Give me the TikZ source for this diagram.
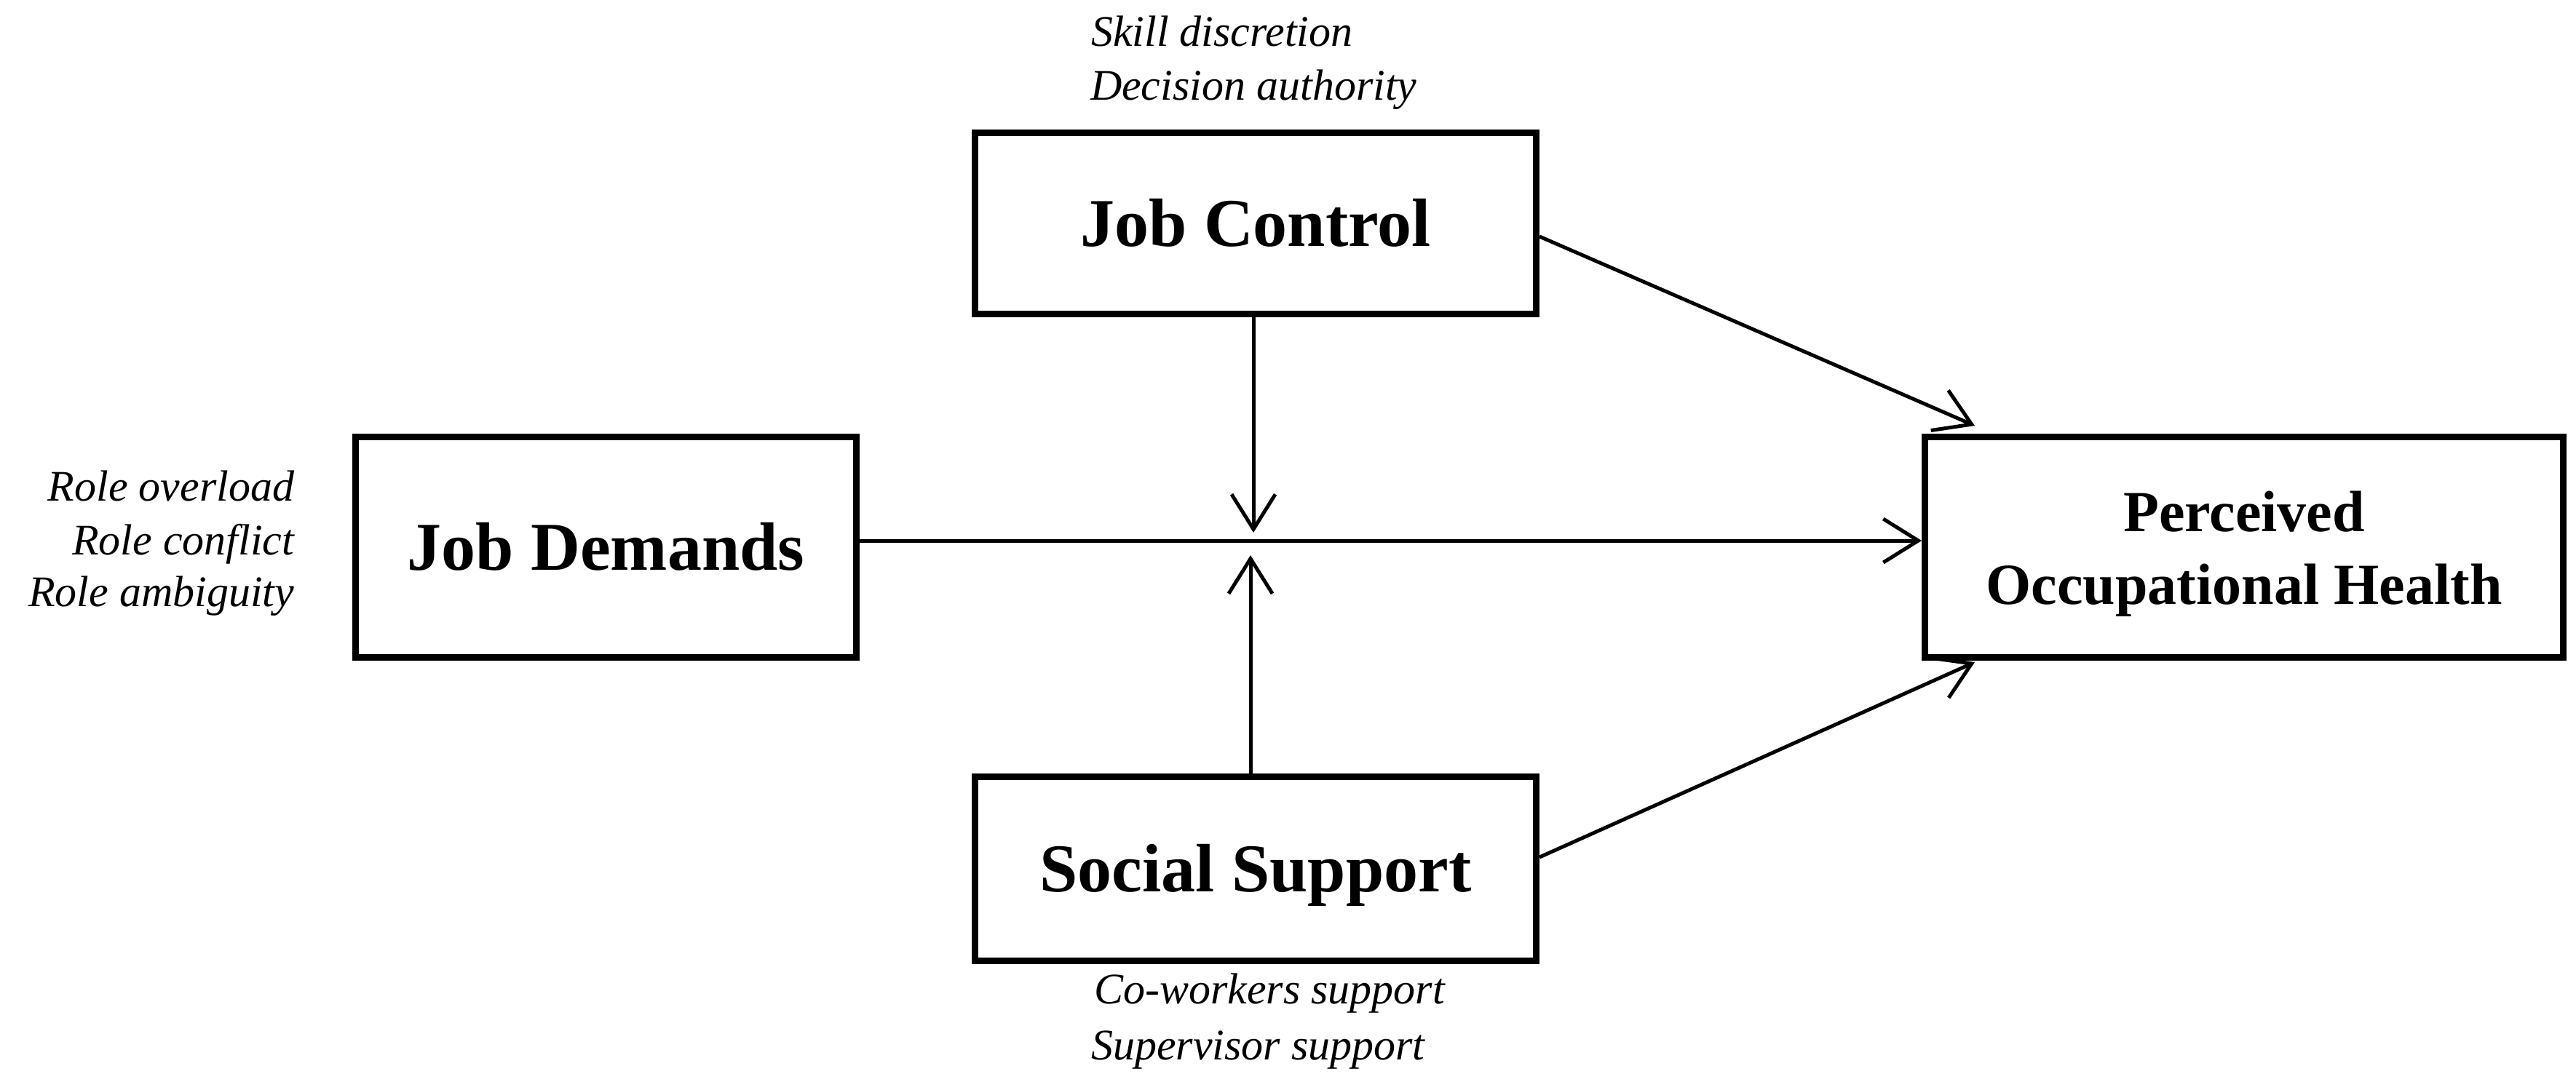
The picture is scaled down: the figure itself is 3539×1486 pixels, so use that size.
\documentclass[tikz,border=0pt]{standalone}
\usepackage{fontspec}
\setmainfont{Liberation Serif}
\usetikzlibrary{arrows.meta,calc}
\begin{document}
\begin{tikzpicture}[x=0.2pt,y=-0.2pt,
  box/.style={draw,line width=1.8pt,rectangle,inner sep=0pt,
    font=\bfseries\fontsize{18.8}{20}\selectfont,text height=12.4pt,text depth=0pt},
  boxline/.style={inner sep=0pt,font=\bfseries\fontsize{16}{20}\selectfont,anchor=base},
  item/.style={inner sep=0pt,font=\itshape\fontsize{12}{14.8}\selectfont},
  conn/.style={line width=1pt,-{Straight Barb[length=9.6pt,width=12pt,line width=1pt]}}]
\useasboundingbox (0,0) rectangle (3539,1486);
% boxes
\node[box,minimum width=154.2pt,minimum height=49.8pt] (jc) at (1725,307) {Job Control};
\node[box,minimum width=137.6pt,minimum height=60.6pt] (jd) at (832.5,752) {Job Demands};
\node[box,minimum width=154.2pt,minimum height=50.6pt] (ss) at (1725,1194) {Social Support};
\node[box,minimum width=175.4pt,minimum height=60.6pt] (pe) at (3083,752) {};
\node[boxline] (pe1) at (3083,730) {Perceived};
\node[boxline] (pe2) at (3083,830) {Occupational Health};
% item lists
\node[item,anchor=base west] (jci1) at (1498,63) {Skill discretion};
\node[item,anchor=base west] (jci2) at (1497,137) {Decision authority};
\node[item,anchor=base east] (jdi1) at (405,688) {Role overload};
\node[item,anchor=base east] (jdi2) at (405,762) {Role conflict};
\node[item,anchor=base east] (jdi3) at (405,833) {Role ambiguity};
\node[item,anchor=base west] (ssi1) at (1502,1379) {Co-workers support};
\node[item,anchor=base west] (ssi2) at (1498,1456) {Supervisor support};
% connector end points
\coordinate (downtip) at (1722,732);
\coordinate (uptip) at (1718,763);
\coordinate (petop) at ($(pe.north west)+(73,-11)$);
\coordinate (pebot) at ($(pe.south west)+(73,2)$);
% connectors
\draw[conn] ($(jd.east)+(0,-9)$) -- ($(pe.west)+(0,-9)$);
\draw[conn] ($(jc.south)+(-3,0)$) -- (downtip);
\draw[conn] ($(ss.north)+(-7,0)$) -- (uptip);
\draw[conn] ($(jc.east)+(0,18)$) -- (petop);
\draw[conn] ($(ss.east)+(0,-16)$) -- (pebot);
\end{tikzpicture}
\end{document}
